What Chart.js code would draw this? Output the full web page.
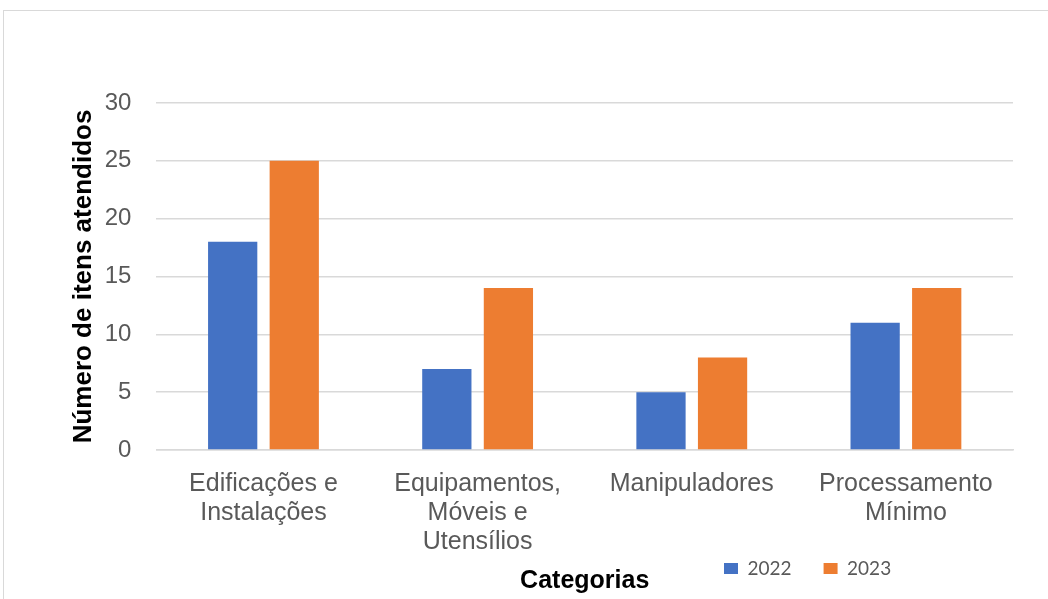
<!DOCTYPE html>
<html lang="pt">
<head>
<meta charset="utf-8">
<title>Número de itens atendidos por categoria</title>
<script src="https://cdn.jsdelivr.net/npm/chart.js@4.4.1/dist/chart.umd.min.js"></script>
<style>
  html, body { margin: 0; padding: 0; background: #fff; overflow: hidden; }
  .frame {
    position: absolute; left: 3px; top: 10px;
    width: 1100px; height: 700px;
    border: 1px solid #d9d9d9;
  }
  #chart { position: absolute; left: 0; top: 0; }
</style>
</head>
<body>
<div class="frame"></div>
<canvas id="chart" width="1048" height="599"></canvas>
<script>
const categories = [
  ['Edificações e', 'Instalações'],
  ['Equipamentos,', 'Móveis e', 'Utensílios'],
  ['Manipuladores'],
  ['Processamento', 'Mínimo']
];
const values2022 = [18, 7, 5, 11];
const values2023 = [25, 14, 8, 14];
const seriesLabels = ['2022', '2023'];
const yTicks = [0, 5, 10, 15, 20, 25, 30];

const FONT = '"Liberation Sans", Arial, sans-serif';

// legend sits on the same row as the x title, so move it after layout
const legendMover = {
  id: 'legendMover',
  afterLayout(chart) {
    const lg = chart.legend;
    if (!lg) return;
    lg.left = 692;
    lg.right = 1048;
    lg.top = 527;
    lg.bottom = 599;
    lg.width = lg.right - lg.left;
    lg.height = lg.bottom - lg.top;
  }
};

new Chart(document.getElementById('chart'), {
  type: 'bar',
  data: {
    labels: categories,
    datasets: [
      {
        label: seriesLabels[0],
        data: values2022,
        backgroundColor: '#4472C4',
        categoryPercentage: 0.575,
        barPercentage: 0.8
      },
      {
        label: seriesLabels[1],
        data: values2023,
        backgroundColor: '#ED7D31',
        categoryPercentage: 0.575,
        barPercentage: 0.8
      }
    ]
  },
  options: {
    responsive: false,
    animation: false,
    layout: { padding: { left: 68, right: 35, top: 103, bottom: 1.75 } },
    plugins: {
      tooltip: { enabled: false },
      legend: {
        position: 'bottom',
        align: 'start',
        maxHeight: 1,
        labels: {
          boxWidth: 14,
          boxHeight: 11,
          padding: 32,
          color: '#595959',
          font: { family: 'Lato, "Open Sans", sans-serif', size: 19 }
        }
      }
    },
    scales: {
      x: {
        grid: {
          display: true,
          drawOnChartArea: false,
          drawTicks: true,
          tickLength: 17,
          color: 'transparent',
          tickColor: 'transparent'
        },
        border: { display: true, color: '#d9d9d9', width: 1.5 },
        ticks: {
          padding: 3,
          maxRotation: 0,
          autoSkip: false,
          color: '#595959',
          font: { family: FONT, size: 25, lineHeight: 1.15 }
        },
        title: {
          display: true,
          text: 'Categorias',
          color: '#000',
          padding: { top: 7, bottom: 0 },
          font: { family: FONT, size: 25, weight: 'bold', lineHeight: 1.2 }
        }
      },
      y: {
        min: 0,
        max: 30,
        afterBuildTicks(scale) {
          scale.ticks = yTicks.map((v) => ({ value: v }));
        },
        grid: {
          color: '#d9d9d9',
          lineWidth: 1.5,
          drawTicks: true,
          tickLength: 20,
          tickColor: 'transparent'
        },
        border: { display: false },
        ticks: {
          padding: 5,
          color: '#595959',
          font: { family: FONT, size: 24 }
        },
        title: {
          display: true,
          text: 'Número de itens atendidos',
          color: '#000',
          padding: { top: 0.5, bottom: 0 },
          font: { family: FONT, size: 26, weight: 'bold', lineHeight: 1.2 }
        }
      }
    }
  },
  plugins: [legendMover]
});
</script>
</body>
</html>
